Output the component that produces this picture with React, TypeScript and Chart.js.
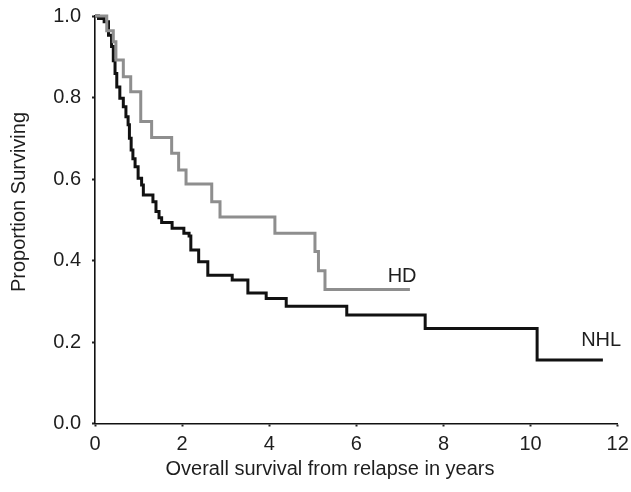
import React, { useEffect, useRef } from 'react';
import { Chart, registerables } from 'chart.js';

Chart.register(...registerables);

// Kaplan-Meier step data: time (years) at which survival drops, and survival after the drop
const hdTimes = [0, 0.27, 0.42, 0.48, 0.65, 0.82, 1.05, 1.30, 1.76, 1.92, 2.09, 2.68, 2.87, 4.13, 5.05, 5.13, 5.28, 7.23];
const hdSurvival = [1.0, 0.964, 0.937, 0.892, 0.851, 0.814, 0.741, 0.702, 0.663, 0.622, 0.588, 0.544, 0.507, 0.467, 0.422, 0.375, 0.329, 0.329];

const nhlTimes = [0, 0.08, 0.21, 0.31, 0.38, 0.42, 0.46, 0.50, 0.57, 0.65, 0.71, 0.76, 0.79, 0.83, 0.87, 0.92, 0.99, 1.07, 1.11, 1.33, 1.40, 1.47, 1.53, 1.77, 2.04, 2.16, 2.20, 2.38, 2.59, 3.15, 3.51, 3.93, 4.39, 5.78, 7.58, 10.15, 11.66];
const nhlSurvival = [1.0, 0.994, 0.986, 0.953, 0.925, 0.89, 0.859, 0.826, 0.798, 0.777, 0.753, 0.733, 0.70, 0.671, 0.65, 0.630, 0.602, 0.585, 0.561, 0.544, 0.520, 0.505, 0.493, 0.479, 0.467, 0.46, 0.426, 0.397, 0.364, 0.352, 0.320, 0.307, 0.288, 0.266, 0.233, 0.156, 0.156];

const seriesNames = ['HD', 'NHL'];
const xTickValues = [0, 2, 4, 6, 8, 10, 12];
const yTickValues = [0, 0.2, 0.4, 0.6, 0.8, 1.0];
const xTitle = 'Overall survival from relapse in years';
const yTitle = 'Proportion Surviving';

const FONT = '"Liberation Sans", Arial, Helvetica, sans-serif';
const TEXT = '#1e1e1e';

const toPoints = (xs: number[], ys: number[]) => xs.map((x, i) => ({ x, y: ys[i] }));

const annotationPlugin = {
  id: 'kmAnnotations',
  afterDraw(chart: any) {
    const ctx = chart.ctx;
    const xs = chart.scales.x;
    const ys = chart.scales.y;
    ctx.save();
    ctx.fillStyle = TEXT;
    ctx.font = `20px ${FONT}`;
    ctx.textAlign = 'center';
    ctx.textBaseline = 'middle';
    // series labels
    ctx.fillText(seriesNames[0], xs.getPixelForValue(7.05), ys.getPixelForValue(0.362));
    ctx.fillText(seriesNames[1], xs.getPixelForValue(11.62), ys.getPixelForValue(0.203));
    // x title
    ctx.fillText(xTitle, 330, 469);
    // y title
    ctx.translate(19, 202);
    ctx.rotate(-Math.PI / 2);
    ctx.fillText(yTitle, 0, 0);
    ctx.restore();
  },
};

export default function App() {
  const ref = useRef<HTMLCanvasElement | null>(null);

  useEffect(() => {
    if (!ref.current) return;
    const chart = new Chart(ref.current, {
      type: 'line',
      data: {
        datasets: [
          {
            label: seriesNames[0],
            data: toPoints(hdTimes, hdSurvival),
            borderColor: '#8e8e8e',
            borderWidth: 3,
            pointRadius: 0,
            stepped: 'before',
            fill: false,
            clip: false,
          },
          {
            label: seriesNames[1],
            data: toPoints(nhlTimes, nhlSurvival),
            borderColor: '#111111',
            borderWidth: 3,
            pointRadius: 0,
            stepped: 'before',
            fill: false,
            clip: false,
          },
        ],
      },
      options: {
        animation: false,
        responsive: true,
        maintainAspectRatio: false,
        layout: { padding: { top: 16, right: 13.3, left: 0, bottom: 0 } },
        plugins: {
          legend: { display: false },
          tooltip: { enabled: false },
        },
        scales: {
          x: {
            type: 'linear',
            min: 0,
            max: 12,
            afterBuildTicks: (s: any) => {
              s.ticks = xTickValues.map((v) => ({ value: v }));
            },
            ticks: {
              font: { family: FONT, size: 20 },
              color: TEXT,
              padding: 6,
              maxRotation: 0,
              autoSkip: false,
            },
            grid: { drawOnChartArea: false, drawTicks: true, tickLength: 3, tickWidth: 2, color: '#222' },
            border: { display: true, color: '#111', width: 1.6 },
            afterFit: (s: any) => {
              s.height = 68.5;
              s.paddingLeft = 0;
              s.paddingRight = 0;
            },
          },
          y: {
            type: 'linear',
            min: 0,
            max: 1,
            afterBuildTicks: (s: any) => {
              s.ticks = yTickValues.map((v) => ({ value: v }));
            },
            ticks: {
              font: { family: FONT, size: 20 },
              color: TEXT,
              padding: 11,
              callback: (v: any) => Number(v).toFixed(1),
            },
            grid: { drawOnChartArea: false, drawTicks: true, tickLength: 3, tickWidth: 2, color: '#222' },
            border: { display: true, color: '#111', width: 1.6 },
            afterFit: (s: any) => {
              s.width = 95;
              s.paddingTop = 0;
              s.paddingBottom = 0;
            },
          },
        },
      },
      plugins: [annotationPlugin],
    } as any);
    return () => chart.destroy();
  }, []);

  return (
    <div style={{ position: 'absolute', left: 0, top: 0, width: '631px', height: '492px', overflow: 'hidden' }}>
      <canvas ref={ref} style={{ display: 'block' }} />
    </div>
  );
}
